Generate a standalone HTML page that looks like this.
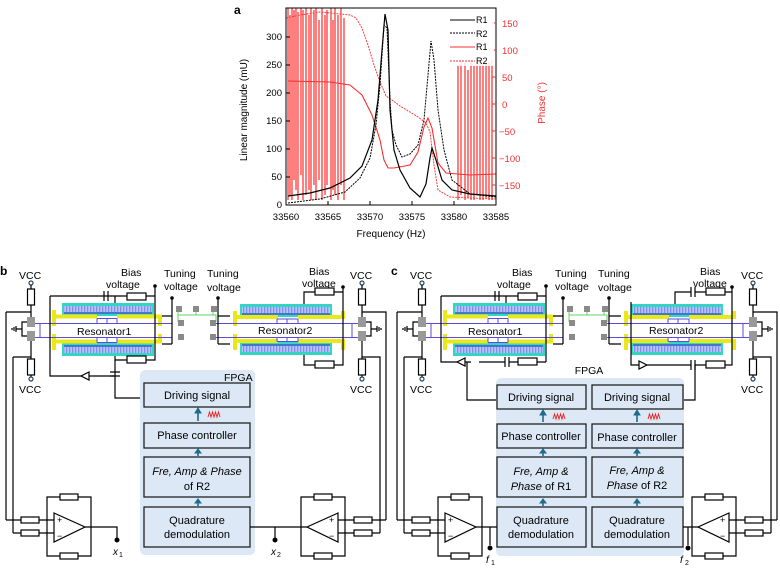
<!DOCTYPE html>
<html><head><meta charset="utf-8"><style>
html,body{margin:0;padding:0;background:#fff}
svg{display:block;font-family:"Liberation Sans",Arial,sans-serif}
</style></head><body>
<svg width="780" height="569" viewBox="0 0 780 569" xmlns="http://www.w3.org/2000/svg">
<defs>
<pattern id="comb" width="3" height="6" patternUnits="userSpaceOnUse">
<rect width="3" height="6" fill="#b9c4ff"/><rect width="1.3" height="6" fill="#7f8ef0"/>
</pattern>
<g id="res1">
 <rect x="62" y="303" width="92" height="13" fill="#33d6c2"/>
 <rect x="64" y="306" width="88" height="6" fill="url(#comb)"/>
 <line x1="64" y1="313" x2="152" y2="313" stroke="#4b3fcf" stroke-width="1.2"/>
 <rect x="62" y="343" width="92" height="13" fill="#33d6c2"/>
 <rect x="64" y="347" width="88" height="6" fill="url(#comb)"/>
 <line x1="64" y1="346" x2="152" y2="346" stroke="#4b3fcf" stroke-width="1.2"/>
 <path d="M54 310 V326 M54 316.5 H97 M117 316.5 H160 V326" stroke="#e8e81a" stroke-width="4" fill="none"/>
 <path d="M54 334 V350 M54 341.5 H97 M117 341.5 H160 V334" stroke="#e8e81a" stroke-width="4" fill="none"/>
 <path d="M35 323.5 H172 M35 337.5 H172 M40 323.5 V337.5 M97 318.5 H117 M97 318.5 V323.5 M107 318.5 V323.5 M117 318.5 V323.5 M97 342.5 H117 M97 337.5 V342.5 M107 337.5 V342.5 M117 337.5 V342.5" stroke="#5a4ae0" stroke-width="1" fill="none"/>
</g>
<g id="res2">
 <rect x="240" y="304" width="92" height="13" fill="#33d6c2"/>
 <rect x="242" y="307" width="88" height="6" fill="url(#comb)"/>
 <line x1="242" y1="314" x2="330" y2="314" stroke="#4b3fcf" stroke-width="1.2"/>
 <rect x="240" y="342" width="92" height="13" fill="#33d6c2"/>
 <rect x="242" y="346" width="88" height="6" fill="url(#comb)"/>
 <line x1="242" y1="345" x2="330" y2="345" stroke="#4b3fcf" stroke-width="1.2"/>
 <path d="M235 311 V326 M235 317 H278 M298 317 H343 V311" stroke="#e8e81a" stroke-width="4" fill="none"/>
 <path d="M235 334 V350 M235 341 H278 M298 341 H343 V350" stroke="#e8e81a" stroke-width="4" fill="none"/>
 <path d="M212 323.5 H360 M212 337.5 H360 M352 323.5 V337.5 M277 319 H298 M277 319 V323.5 M287 319 V323.5 M298 319 V323.5 M277 341.5 H298 M277 337.5 V341.5 M287 337.5 V341.5 M298 337.5 V341.5" stroke="#5a4ae0" stroke-width="1" fill="none"/>
</g>
<g id="mid">
 <path d="M178 310 V315 H216 V322 M196 310 V315 M213 310 V315 M178 315 V322" stroke="#66d066" stroke-width="1" fill="none"/>
 <g fill="#8a8a8a">
 <rect x="176" y="306" width="6" height="6"/><rect x="193" y="306" width="6" height="6"/><rect x="211" y="306" width="6" height="6"/>
 <rect x="178" y="320" width="6" height="6"/><rect x="210" y="320" width="6" height="6"/>
 <rect x="178" y="334" width="6" height="6"/><rect x="210" y="334" width="6" height="6"/>
 </g>
</g>
<g id="sideL">
 <circle cx="31" cy="283" r="2" fill="none" stroke="#246" stroke-width="1.2"/>
 <path d="M31 285 V317 M31 341 V377 M31 312 H6 M31 357 H13" stroke="#000" stroke-width="1.2" fill="none"/>
 <rect x="27.5" y="289" width="7" height="16" fill="#fff" stroke="#000" stroke-width="1.2"/>
 <rect x="27.5" y="359" width="7" height="16" fill="#fff" stroke="#000" stroke-width="1.2"/>
 <circle cx="31" cy="379" r="2" fill="none" stroke="#246" stroke-width="1.2"/>
 <rect x="27" y="317" width="8" height="10" fill="#999"/><rect x="27" y="331" width="8" height="10" fill="#999"/>
 <path d="M27 322 H22 V336 H27 M22 329 H16 M16 326 V332 M14 327 V331 M12 328 V330" stroke="#000" stroke-width="1.2" fill="none"/>
</g>
<g id="ampL">
 <path d="M54 513 L85 527 L54 542 Z" fill="#fff" stroke="#000" stroke-width="1.2"/>
 <path d="M47 527 V497 H91 V527 M47 527 V556 H91 V527 M13 533 H54 M6 520 H54 M85 527 H91" stroke="#000" stroke-width="1.2" fill="none"/>
 <rect x="60" y="494" width="18" height="6" fill="#fff" stroke="#000" stroke-width="1.2"/>
 <rect x="60" y="553" width="18" height="6" fill="#fff" stroke="#000" stroke-width="1.2"/>
 <rect x="21" y="517" width="18" height="6" fill="#fff" stroke="#000" stroke-width="1.2"/>
 <rect x="21" y="530" width="18" height="6" fill="#fff" stroke="#000" stroke-width="1.2"/>
 <text x="57" y="523" font-size="9">+</text><text x="57" y="539" font-size="9">−</text>
</g>
<g id="ampR">
 <path d="M338 513 L307 527 L338 542 Z" fill="#fff" stroke="#000" stroke-width="1.2"/>
 <path d="M345 527 V497 H301 V527 M345 527 V556 H301 V527 M380 533 H338 M386 520 H338 M307 527 H301" stroke="#000" stroke-width="1.2" fill="none"/>
 <rect x="314" y="494" width="18" height="6" fill="#fff" stroke="#000" stroke-width="1.2"/>
 <rect x="314" y="553" width="18" height="6" fill="#fff" stroke="#000" stroke-width="1.2"/>
 <rect x="354" y="517" width="18" height="6" fill="#fff" stroke="#000" stroke-width="1.2"/>
 <rect x="354" y="530" width="18" height="6" fill="#fff" stroke="#000" stroke-width="1.2"/>
 <text x="329" y="523" font-size="9">+</text><text x="329" y="539" font-size="9">−</text>
</g>
<g id="sideR">
 <circle cx="362" cy="283" r="2" fill="none" stroke="#246" stroke-width="1.2"/>
 <path d="M362 285 V317 M362 341 V377 M362 312 H386 V520 M362 357 H380 V533" stroke="#000" stroke-width="1.2" fill="none"/>
 <rect x="358.5" y="289" width="7" height="16" fill="#fff" stroke="#000" stroke-width="1.2"/>
 <rect x="358.5" y="359" width="7" height="16" fill="#fff" stroke="#000" stroke-width="1.2"/>
 <circle cx="362" cy="379" r="2" fill="none" stroke="#246" stroke-width="1.2"/>
 <rect x="358" y="317" width="8" height="10" fill="#999"/><rect x="358" y="331" width="8" height="10" fill="#999"/>
 <path d="M366 322 H371 V336 H366 M371 329 H377 M377 326 V332 M379 327 V331 M381 328 V330" stroke="#000" stroke-width="1.2" fill="none"/>
 <path d="M6 312 V520 M13 357 V533" stroke="#000" stroke-width="1.2"/>
</g>
<g id="tune">
 <circle cx="172" cy="298" r="1.8"/><circle cx="218" cy="298" r="1.8"/>
 <path d="M172 298 V344 M162 316 H172 M162 344 H172 M218 298 V344 M218 316 H230 M218 344 H230" stroke="#000" stroke-width="1.2" fill="none"/>
</g>
</defs>

<!-- ===== Panel a ===== -->
<text x="234" y="14" font-size="12" font-weight="bold">a</text>
<g font-size="9.5" text-anchor="end">
<text x="282" y="208">0</text><text x="282" y="180">50</text><text x="282" y="152">100</text><text x="282" y="124">150</text><text x="282" y="96">200</text><text x="282" y="68">250</text><text x="282" y="40">300</text>
</g>
<g font-size="9.5" fill="#f03030">
<text x="502" y="27">150</text><text x="502" y="54">100</text><text x="502" y="81">50</text><text x="502" y="108">0</text><text x="499" y="135">−50</text><text x="499" y="162">−100</text><text x="499" y="189">−150</text>
</g>
<g font-size="9.5" text-anchor="middle">
<text x="286" y="220">33560</text><text x="328" y="220">33565</text><text x="370" y="220">33570</text><text x="412" y="220">33575</text><text x="454" y="220">33580</text><text x="496" y="220">33585</text>
</g>
<text x="391" y="237" font-size="10" text-anchor="middle">Frequency (Hz)</text>
<text transform="translate(247,110) rotate(-90)" font-size="10" text-anchor="middle">Linear magnitude (mU)</text>
<text transform="translate(545,103) rotate(-90)" font-size="10" text-anchor="middle" fill="#f03030">Phase (°)</text>
<g stroke="#ff2a2a" stroke-width="1.2">
<path d="M288 8V200 M290 15V195 M292 8V200 M294 10V180 M296 8V190 M298 12V200 M301 8V175 M303 10V200 M306 8V195 M309 15V190 M311 8V200 M314 10V185 M316 8V200 M319 20V180 M322 8V200 M325 15V195 M327 10V185 M331 8V200 M333 20V190 M335 8V195 M338 15V200 M341 8V185 M344 18V200"/>
<path d="M458 65V200 M461 60V195 M465 62V200 M468 70V198 M471 60V200 M474 65V200 M477 62V195 M480 60V200 M483 66V200 M486 60V198 M489 62V200 M492 60V200"/>
</g>
<path d="M286 18 L300 15 L320 12 L340 14 L350 15 L356 18 L362 28 L368 45 L374 65 L380 82 L386 96 L392 100 L400 106 L410 112 L418 117 L426 123 L430 132 L434 165 L438 190 L450 197 L470 198 L496 199" stroke="#f04040" stroke-width="1" stroke-dasharray="2 1" fill="none"/>
<path d="M288 81 L330 82 L350 85 L362 95 L372 115 L380 140 L384 160 L388 168 L394 168 L410 165 L418 152 L424 127 L428 118 L432 128 L438 163 L446 173 L470 175 L496 174" stroke="#f03030" stroke-width="1.1" fill="none"/>
<path d="M288 203 L320 199 L345 192 L360 178 L370 158 L376 125 L380 85 L384 25 L387 28 L390 100 L392 130 L396 145 L402 157 L410 154 L418 145 L424 120 L428 75 L431 41 L434 60 L438 110 L444 150 L452 180 L470 194 L496 197" stroke="#000" stroke-width="1" stroke-dasharray="2 1" fill="none"/>
<path d="M288 196 L310 193 L330 188 L350 178 L362 166 L372 140 L378 100 L382 50 L385 14 L388 30 L390 110 L394 150 L400 170 L410 188 L420 197 L426 184 L430 158 L432 148 L436 160 L442 180 L452 190 L470 194 L496 196" stroke="#000" stroke-width="1.2" fill="none"/>
<rect x="286" y="8" width="210" height="197" fill="none" stroke="#000" stroke-width="1"/>
<g stroke="#000" stroke-width="1">
<path d="M286 177H290 M286 149H290 M286 121H290 M286 93H290 M286 65H290 M286 37H290 M328 205V201 M370 205V201 M412 205V201 M454 205V201"/>
</g>
<g stroke="#f03030"><path d="M496 23H492 M496 50H492 M496 77H492 M496 104H492 M496 131H492 M496 158H492 M496 185H492"/></g>
<rect x="448" y="12" width="46" height="54" fill="#fff" opacity="0.85"/>
<g font-size="9">
<line x1="450" y1="20" x2="475" y2="20" stroke="#000"/><text x="476" y="23">R1</text>
<line x1="450" y1="33" x2="475" y2="33" stroke="#000" stroke-dasharray="2 1"/><text x="476" y="37">R2</text>
<line x1="450" y1="47" x2="475" y2="47" stroke="#f03030"/><text x="476" y="50">R1</text>
<line x1="450" y1="61" x2="475" y2="61" stroke="#f03030" stroke-dasharray="2 1"/><text x="476" y="64">R2</text>
</g>

<!-- ===== Panel b ===== -->
<text x="0" y="275" font-size="12" font-weight="bold">b</text>
<use href="#res1"/><use href="#res2"/><use href="#mid"/><use href="#sideL"/><use href="#sideR"/><use href="#ampL"/><use href="#ampR"/><use href="#tune"/>
<g font-size="10.5">
<text x="19" y="279">VCC</text><text x="19" y="393">VCC</text>
<text x="350" y="279">VCC</text><text x="350" y="393">VCC</text>
<text x="121" y="276">Bias</text><text x="106" y="288">voltage</text>
<text x="164" y="277">Tuning</text><text x="164" y="290">voltage</text>
<text x="207" y="277">Tuning</text><text x="207" y="291">voltage</text>
<text x="309" y="275">Bias</text><text x="302" y="287">voltage</text>
<text x="77" y="335">Resonator1</text><text x="258" y="334">Resonator2</text>
</g>
<g stroke="#000" stroke-width="1.2" fill="none">
 <path d="M155 286 V360 H115 M115 296 H104 M108 296 H155 M115 296 V303 M115 356 V376 M155 360"/>
 <path d="M104 291 V301 M108 291 V301"/>
 <path d="M50 296 H104 M50 296 V376 H82"/>
 <path d="M110 372 H120 M110 376 H120 M115 376 V398 H144"/>
 <path d="M343 287 V292 H304 V304 M343 292 V365 H304 V355"/>
</g>
<circle cx="155" cy="286" r="1.8"/><circle cx="343" cy="287" r="1.8"/>
<rect x="127" y="293" width="19" height="7" fill="#fff" stroke="#000" stroke-width="1.2"/>
<rect x="315" y="288" width="19" height="7" fill="#fff" stroke="#000" stroke-width="1.2"/>
<rect x="315" y="361" width="19" height="7" fill="#fff" stroke="#000" stroke-width="1.2"/>
<rect x="127" y="356" width="19" height="7" fill="#fff" stroke="#000" stroke-width="1.2"/>
<path d="M89 372 L81 376 L89 380 Z M115 376 H89" fill="#fff" stroke="#000" stroke-width="1.2"/>
<rect x="140" y="370" width="115" height="185" rx="5" fill="#dce8f5"/>
<text x="224" y="381" font-size="10.5">FPGA</text>
<g fill="#dce8f5" stroke="#222" stroke-width="1.3">
<rect x="144" y="383" width="106" height="24"/><rect x="144" y="423" width="106" height="25"/><rect x="144" y="457" width="106" height="40"/><rect x="144" y="507" width="106" height="40"/>
</g>
<g font-size="11" text-anchor="middle">
<text x="197" y="399">Driving signal</text><text x="197" y="439">Phase controller</text>
<text x="197" y="475" font-style="italic">Fre, Amp &amp; Phase</text><text x="197" y="490">of R2</text>
<text x="197" y="524">Quadrature</text><text x="197" y="538">demodulation</text>
</g>
<g fill="#1d6c8c" stroke="#1d6c8c"><path d="M198 421V412" stroke-width="1.6"/><path d="M195 413 L198 408 L201 413Z"/><path d="M198 456V452" stroke-width="1.6"/><path d="M195 453 L198 449 L201 453Z"/><path d="M198 506V502" stroke-width="1.6"/><path d="M195 503 L198 499 L201 503Z"/></g>
<path d="M208 417 l1.5 -5 1.5 5 1.5 -5 1.5 5 1.5 -5 1.5 5 1.5 -5 1.5 5" stroke="#f02020" fill="none" stroke-width="0.9"/>
<path d="M91 527 H117 V538 M250 527 H301 M275 527 V538" stroke="#000" stroke-width="1.2" fill="none"/>
<circle cx="117" cy="540" r="2.5"/><circle cx="275" cy="540" r="2.5"/>
<text x="113" y="555" font-size="10" font-style="italic">x</text><text x="119" y="557" font-size="7">1</text>
<text x="271" y="555" font-size="10" font-style="italic">x</text><text x="277" y="557" font-size="7">2</text>

<!-- ===== Panel c ===== -->
<text x="391" y="275" font-size="12" font-weight="bold">c</text>
<g transform="translate(391,0)">
<use href="#res1"/><use href="#res2"/><use href="#mid"/><use href="#sideL"/><use href="#sideR"/><use href="#ampL"/><use href="#ampR"/><use href="#tune"/>
<g font-size="10.5">
<text x="19" y="279">VCC</text><text x="19" y="393">VCC</text>
<text x="350" y="279">VCC</text><text x="350" y="393">VCC</text>
<text x="121" y="276">Bias</text><text x="106" y="288">voltage</text>
<text x="164" y="277">Tuning</text><text x="164" y="290">voltage</text>
<text x="207" y="277">Tuning</text><text x="207" y="291">voltage</text>
<text x="309" y="275">Bias</text><text x="302" y="287">voltage</text>
<text x="77" y="335">Resonator1</text><text x="258" y="334">Resonator2</text>
</g>
<g stroke="#000" stroke-width="1.2" fill="none">
 <path d="M155 286 V362 M115 296 H104 M108 296 H155 M115 296 V303 M50 296 H104 M50 296 V362 H80 M104 291 V301 M108 291 V301"/>
 <path d="M155 362 H118 M114 362 H88 M114 357 V367 M118 357 V367"/>
 <path d="M76 362 V400 H105"/>
 <path d="M341 287 V292 H304 M300 292 H284 V304 M300 287 V297 M304 287 V297 M341 292 V365 H304 M300 365 H270 M300 360 V370 M304 360 V370"/>
 <path d="M304 365 V400 H292"/>
 <path d="M248 365 H240 V302"/>
</g>
<circle cx="155" cy="286" r="1.8"/><circle cx="341" cy="287" r="1.8"/>
<rect x="127" y="293" width="19" height="7" fill="#fff" stroke="#000" stroke-width="1.2"/>
<rect x="127" y="358" width="19" height="7" fill="#fff" stroke="#000" stroke-width="1.2"/>
<rect x="315" y="288" width="19" height="7" fill="#fff" stroke="#000" stroke-width="1.2"/>
<rect x="315" y="361" width="19" height="7" fill="#fff" stroke="#000" stroke-width="1.2"/>
<path d="M74 358 L66 362 L74 366 Z" fill="#fff" stroke="#000" stroke-width="1.2"/>
<path d="M256 365 H270 M248 361 L256 365 L248 369 Z" fill="#fff" stroke="#000" stroke-width="1.2"/>
</g>
<rect x="496" y="378" width="188" height="178" rx="5" fill="#dce8f5"/>
<text x="589" y="374" font-size="10.5" text-anchor="middle">FPGA</text>
<g fill="#dce8f5" stroke="#222" stroke-width="1.3">
<rect x="497" y="385" width="89" height="24"/><rect x="592" y="385" width="91" height="24"/>
<rect x="497" y="424" width="89" height="24"/><rect x="592" y="424" width="91" height="24"/>
<rect x="497" y="457" width="89" height="40"/><rect x="592" y="457" width="91" height="40"/>
<rect x="497" y="507" width="89" height="40"/><rect x="592" y="507" width="91" height="40"/>
</g>
<g font-size="11" text-anchor="middle">
<text x="541" y="401">Driving signal</text><text x="637" y="401">Driving signal</text>
<text x="541" y="440">Phase controller</text><text x="637" y="441">Phase controller</text>
<text x="541" y="475" font-style="italic">Fre, Amp &amp;</text><text x="541" y="490"><tspan font-style="italic">Phase</tspan> of R1</text>
<text x="637" y="474" font-style="italic">Fre, Amp &amp;</text><text x="637" y="489"><tspan font-style="italic">Phase</tspan> of R2</text>
<text x="541" y="524">Quadrature</text><text x="541" y="538">demodulation</text>
<text x="637" y="524">Quadrature</text><text x="637" y="538">demodulation</text>
</g>
<g fill="#1d6c8c" stroke="#1d6c8c">
<path d="M543 422V414" stroke-width="1.6"/><path d="M540 415 L543 410 L546 415Z"/>
<path d="M543 456V452" stroke-width="1.6"/><path d="M540 453 L543 449 L546 453Z"/>
<path d="M543 506V502" stroke-width="1.6"/><path d="M540 503 L543 499 L546 503Z"/>
<path d="M637 422V414" stroke-width="1.6"/><path d="M634 415 L637 410 L640 415Z"/>
<path d="M637 456V452" stroke-width="1.6"/><path d="M634 453 L637 449 L640 453Z"/>
<path d="M637 506V502" stroke-width="1.6"/><path d="M634 503 L637 499 L640 503Z"/>
</g>
<path d="M553 419 l1.5 -5 1.5 5 1.5 -5 1.5 5 1.5 -5 1.5 5 1.5 -5 1.5 5" stroke="#f02020" fill="none" stroke-width="0.9"/>
<path d="M648 419 l1.5 -5 1.5 5 1.5 -5 1.5 5 1.5 -5 1.5 5 1.5 -5 1.5 5" stroke="#f02020" fill="none" stroke-width="0.9"/>
<path d="M482 527 H497 M490 527 V545 M683 527 H692 M688 527 V545" stroke="#000" stroke-width="1.2" fill="none"/>
<circle cx="490" cy="548" r="2.5"/><circle cx="688" cy="548" r="2.5"/>
<text x="486" y="563" font-size="10" font-style="italic">f</text><text x="491" y="565" font-size="7">1</text>
<text x="680" y="563" font-size="10" font-style="italic">f</text><text x="685" y="565" font-size="7">2</text>
</svg>
</body></html>
